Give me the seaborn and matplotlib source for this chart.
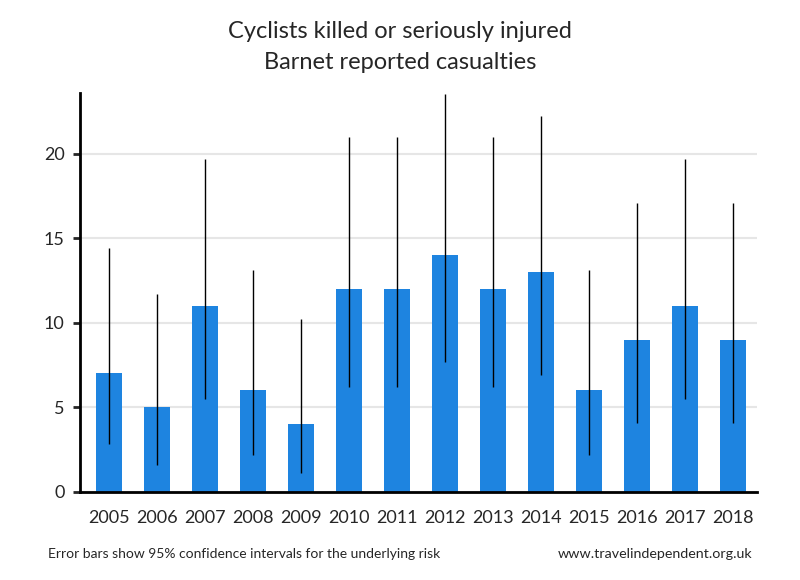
import numpy as np
import pandas as pd
import seaborn as sns
import matplotlib.pyplot as plt

# Barnet cyclist KSI counts with 95% CI
years = ["2005", "2006", "2007", "2008", "2009", "2010", "2011",
         "2012", "2013", "2014", "2015", "2016", "2017", "2018"]
casualties = [7, 5, 11, 6, 4, 12, 12, 14, 12, 13, 6, 9, 11, 9]
ci_low = [2.8, 1.6, 5.5, 2.2, 1.1, 6.2, 6.2, 7.7, 6.2, 6.9, 2.2, 4.1, 5.5, 4.1]
ci_high = [14.4, 11.7, 19.7, 13.1, 10.2, 21.0, 21.0, 23.5, 21.0, 22.2, 13.1, 17.1, 19.7, 17.1]

df = pd.DataFrame({"year": years, "n": casualties})

sns.set_style("white")
plt.rcParams["font.family"] = ["Lato", "DejaVu Sans"]

fig = plt.figure(figsize=(8, 5.8), dpi=100)
ax = fig.add_axes([0.1, 0.152, 0.846, 0.688])

ax.yaxis.grid(True, color="#e6e6e6", linewidth=1.5)
ax.set_axisbelow(True)

sns.barplot(data=df, x="year", y="n", color="#1e84e0", saturation=1,
            width=0.54, linewidth=0, ax=ax)

n = np.array(casualties)
yerr = [n - np.array(ci_low), np.array(ci_high) - n]
ax.errorbar(np.arange(len(years)), n, yerr=yerr, fmt="none",
            ecolor="black", elinewidth=1, capsize=0, zorder=3)

ax.set_xlim(-0.6, 13.49)
ax.set_ylim(0, 23.6)
ax.set_yticks([0, 5, 10, 15, 20])
ax.set_xlabel("")
ax.set_ylabel("")

for s in ["top", "right"]:
    ax.spines[s].set_visible(False)
for s in ["left", "bottom"]:
    ax.spines[s].set_linewidth(2)
    ax.spines[s].set_color("black")

ax.tick_params(axis="y", length=5, width=2, labelsize=13, pad=6, left=True)
ax.tick_params(axis="x", length=0, labelsize=13, pad=13)

fig.text(0.5, 0.946, "Cyclists killed or seriously injured", ha="center",
         va="center", fontsize=17)
fig.text(0.5, 0.893, "Barnet reported casualties", ha="center",
         va="center", fontsize=17)
fig.text(0.06, 0.045, "Error bars show 95% confidence intervals for the underlying risk",
         ha="left", va="center", fontsize=10)
fig.text(0.94, 0.045, "www.travelindependent.org.uk", ha="right",
         va="center", fontsize=10.3)

fig.savefig("out.png", dpi=100)
